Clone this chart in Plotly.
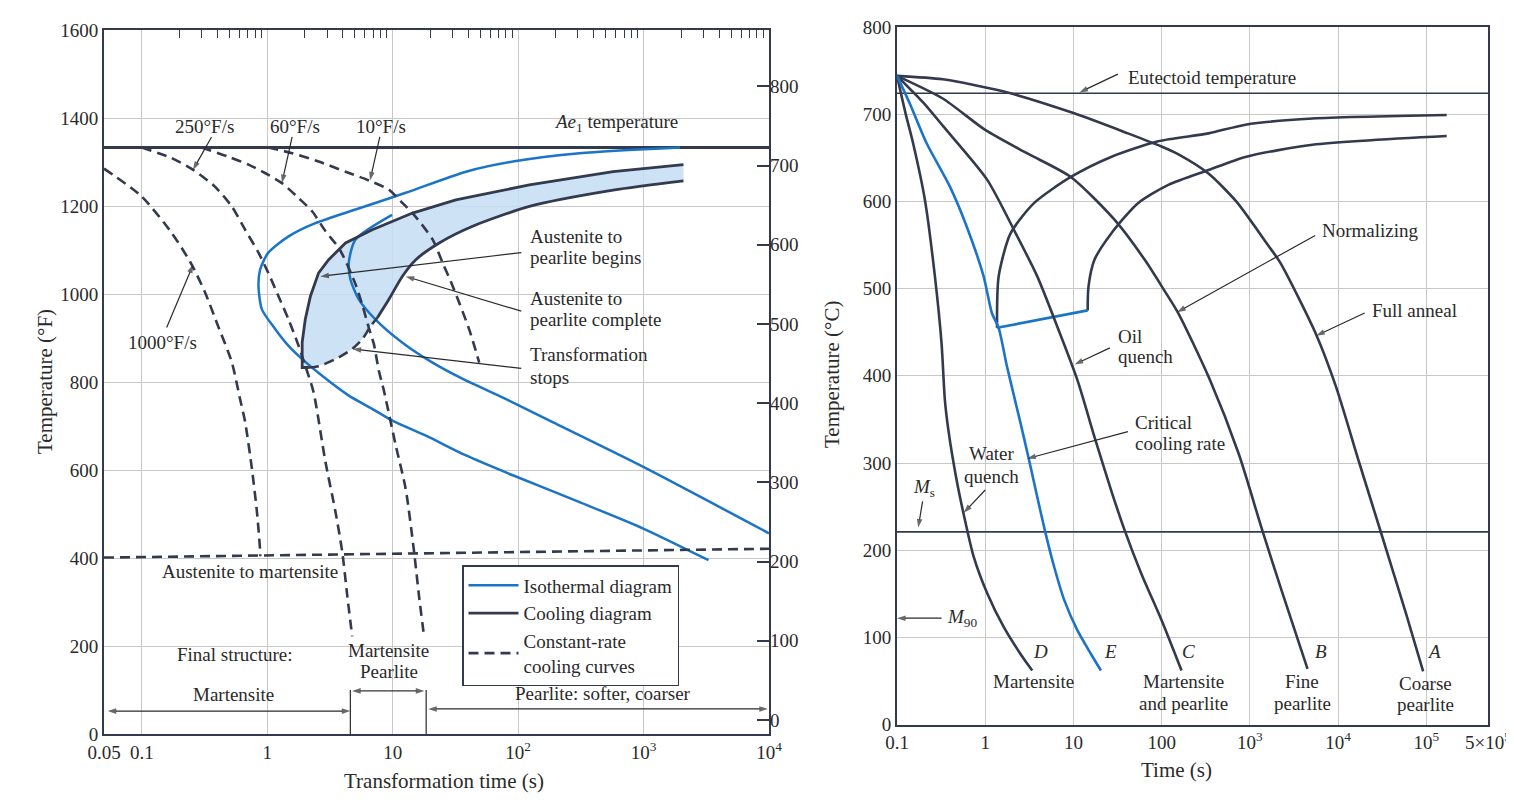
import numpy as np
import plotly.graph_objects as go

# ------------------------------------------------------------------ data
# Left panel (time s, temperature °F)
ae1_t = [0.05, 10000]
ae1_F = [1333, 1333]
aus_mart_t = [0.05, 10000]
aus_mart_F = [401, 421]

rate1000_t = [0.05, 0.0995, 0.173, 0.250, 0.319, 0.406, 0.522, 0.608, 0.667, 0.755, 0.828, 0.879, 0.88]
rate1000_F = [1285, 1222, 1139, 1067, 1004, 927, 845, 761, 709, 603, 505, 415, 404]
rate250_t = [0.10, 0.173, 0.257, 0.383, 0.522, 0.667, 0.852, 1.02, 1.23, 1.48, 1.78, 2.01, 2.34, 2.91, 3.50, 3.96, 4.34, 4.76]
rate250_F = [1333, 1309, 1282, 1244, 1199, 1146, 1094, 1048, 995, 942, 882, 837, 777, 619, 505, 415, 316, 222]
rate60_t = [0.30, 0.49, 0.71, 0.96, 1.31, 1.78, 2.28, 2.91, 3.72, 4.34, 5.06, 5.72, 6.46, 7.08, 7.77, 8.52, 10.6, 12.7, 14.8, 16.2, 17.8]
rate60_F = [1333, 1312, 1294, 1275, 1252, 1218, 1188, 1143, 1105, 1067, 1022, 976, 923, 886, 825, 780, 655, 557, 415, 315, 222]
rate10_t = [1.02, 1.58, 2.57, 4.21, 6.46, 9.34, 11.95, 14.4, 20.8, 25.0, 30.0, 40.8, 49.0]
rate10_F = [1333, 1320, 1301, 1278, 1258, 1237, 1207, 1184, 1124, 1071, 1019, 919, 844]

iso_start_t = [1951, 309, 90.7, 38.4, 12.7, 5.06, 2.42, 1.48, 1.02, 0.879, 0.852, 0.907, 1.16, 1.48, 1.90, 2.74,
               4.47, 6.88, 9.95, 18.4, 38.4, 90.7, 309, 995, 3296]
iso_start_F = [1333, 1320, 1301, 1278, 1230, 1192, 1161, 1131, 1094, 1056, 1018, 965, 920, 882, 852, 814,
               769, 739, 712, 678, 633, 588, 527, 467, 395]
iso_end_t = [9.9, 5.06, 4.47, 4.61, 5.37, 7.31, 11.9, 20.8, 36.2, 80.3, 167, 995, 10000]
iso_end_F = [1180, 1124, 1071, 1033, 988, 942, 890, 844, 807, 761, 716, 607, 456]

cool_start_t = [2.15, 1.90, 1.90, 2.01, 2.21, 2.57, 3.09, 4.21, 6.88, 14.4, 31.9, 123, 572, 2080]
cool_start_F = [833, 833, 890, 942, 995, 1048, 1078, 1116, 1146, 1184, 1214, 1248, 1278, 1294]
cool_end_t = [7.55, 9.34, 12.0, 15.3, 23.5, 43.4, 123, 572, 2080]
cool_end_F = [946, 988, 1041, 1078, 1116, 1154, 1199, 1236, 1257]
stop_t = [2.15, 2.57, 3.50, 4.76, 5.72, 6.67, 7.55]
stop_F = [833, 836, 852, 875, 897, 927, 946]

bracket_t = [4.6, 18.5]
bracket_F = [0, 100]

left_xticks = [0.05, 0.1, 1, 10, 100, 1000, 10000]
left_xtext = ['0.05', '0.1', '1', '10', '10<sup>2</sup>', '10<sup>3</sup>', '10<sup>4</sup>']
left_minor = [m * 10.0 ** d for d in range(-1, 4) for m in range(2, 10)]
left_yF = list(range(0, 1601, 200))
left_yC = list(range(0, 801, 100))

# Right panel (time s, temperature °C)
eutectoid_t = [0.1, 5e5]
eutectoid_C = [724, 724]
ms_t = [0.1, 5e5]
ms_C = [221, 221]

curveA_t = [0.1, 0.33, 1.62, 10.2, 41.5, 99.5, 155, 339, 700, 1600, 2200, 5600, 9500, 17400, 32000, 59000, 92000]
curveA_C = [744, 740, 726, 701, 678, 663, 654, 632, 600, 550, 530, 448, 387, 300, 214, 127, 61]
curveB_t = [0.1, 0.33, 1.0, 3.0, 9.34, 29.2, 64.3, 104, 154, 350, 750, 1380, 2335, 4500]
curveB_C = [744, 718, 682, 655, 628, 579, 533, 500, 472, 396, 310, 223, 151, 64]
curveC_t = [0.1, 0.2, 0.335, 1.05, 2.20, 3.89, 6.58, 11.1, 17.3, 26.7, 38.0, 58.8, 99.5, 168]
curveC_C = [744, 713, 686, 625, 564, 514, 456, 395, 330, 269, 223, 173, 120, 62]
curveD_t = [0.1, 0.125, 0.152, 0.207, 0.269, 0.320, 0.349, 0.382, 0.475, 0.591, 0.738, 1.05, 1.62, 2.51, 3.41]
curveD_C = [744, 701, 667, 602, 514, 437, 372, 338, 280, 234, 193, 151, 112, 81, 62]
curveE_t = [0.1, 0.14, 0.216, 0.398, 0.618, 0.959, 1.19, 1.42, 1.77, 2.51, 3.13, 3.89, 4.84, 6.04, 7.85, 11.1, 15.8, 20.5]
curveE_C = [744, 712, 667, 617, 571, 514, 472, 455, 410, 346, 304, 261, 219, 181, 143, 108, 81, 62]

norm_start_t = [1.36, 1.42, 1.93, 3.57, 9.34, 26.7, 91.2, 340, 890, 5130, 170000]
norm_start_C = [455, 514, 563, 598, 628, 651, 669, 678, 688, 695, 699]
norm_end_t = [14.5, 14.8, 17.3, 26.7, 53.9, 119, 340, 890, 5130, 170000]
norm_end_C = [475, 502, 533, 563, 598, 619, 636, 651, 665, 675]
conn_t = [1.36, 14.5]
conn_C = [455, 475]

right_xticks = [0.1, 1, 10, 100, 1e3, 1e4, 1e5, 5e5]
right_xtext = ['0.1', '1', '10', '100', '10<sup>3</sup>', '10<sup>4</sup>', '10<sup>5</sup>', '5×10<sup>5</sup>']
right_yC = list(range(0, 801, 100))

# ------------------------------------------------------------------ style
W, H = 1514, 806
OFF = 8          # page body margin offset of the figure
DARK = '#343a4e'
BLUE = '#1b74c8'
GRID = '#c8c8c8'
FILL = 'rgba(196,221,243,0.85)'
FONT = 'Liberation Serif'
TXT = '#2a2a2a'
DASH = '10px,6px'
AS = 19      # annotation font size
TS = 19      # tick font size


def px(x):
    return (x - OFF) / W


def py(y):
    return 1 - (y - OFF) / H


fig = go.Figure()


def line(t, v, color, width, dash=None, xa='x', ya='y', name=None, legend=False, rank=None, smooth=True):
    fig.add_trace(go.Scatter(
        x=t, y=v, mode='lines', xaxis=xa, yaxis=ya, name=name, showlegend=legend,
        legendrank=rank if rank is not None else 1000,
        line=dict(color=color, width=width, dash=dash,
                  shape='spline' if smooth else 'linear', smoothing=0.7), hoverinfo='skip'))


# ---- left panel
fig.add_trace(go.Scatter(
    x=cool_start_t + cool_end_t[::-1] + stop_t[::-1],
    y=cool_start_F + cool_end_F[::-1] + stop_F[::-1],
    mode='lines', fill='toself', fillcolor=FILL, line=dict(width=0),
    xaxis='x', yaxis='y', showlegend=False, hoverinfo='skip'))
line(ae1_t, ae1_F, DARK, 3, smooth=False)
line(iso_start_t, iso_start_F, BLUE, 2.5, name='Isothermal diagram', legend=True, rank=1)
line(iso_end_t, iso_end_F, BLUE, 2.5)
line(cool_start_t, cool_start_F, DARK, 2.8, name='Cooling diagram', legend=True, rank=2, smooth=False)
line(cool_end_t, cool_end_F, DARK, 2.8)
line(stop_t, stop_F, DARK, 2.6, dash=DASH)
line(aus_mart_t, aus_mart_F, DARK, 2.6, dash=DASH, smooth=False)
line(rate1000_t, rate1000_F, DARK, 2.6, dash=DASH, name='Constant-rate<br>cooling curves', legend=True, rank=3)
line(rate250_t, rate250_F, DARK, 2.6, dash=DASH)
line(rate60_t, rate60_F, DARK, 2.6, dash=DASH)
line(rate10_t, rate10_F, DARK, 2.6, dash=DASH)
for bt in bracket_t:
    line([bt, bt], bracket_F, TXT, 1.2, smooth=False)
# dummy traces so the overlay axes are drawn
fig.add_trace(go.Scatter(x=[None], y=[None], xaxis='x', yaxis='y2', showlegend=False, hoverinfo='skip'))
fig.add_trace(go.Scatter(x=[None], y=[None], xaxis='x4', yaxis='y', showlegend=False, hoverinfo='skip'))

# ---- right panel
line(eutectoid_t, eutectoid_C, DARK, 1.6, xa='x2', ya='y3', smooth=False)
line(ms_t, ms_C, DARK, 1.8, xa='x2', ya='y3', smooth=False)
line(norm_start_t, norm_start_C, DARK, 2.6, xa='x2', ya='y3')
line(norm_end_t, norm_end_C, DARK, 2.6, xa='x2', ya='y3')
line(conn_t, conn_C, BLUE, 2.6, xa='x2', ya='y3', smooth=False)
for ct, cv in [(curveA_t, curveA_C), (curveB_t, curveB_C), (curveC_t, curveC_C), (curveD_t, curveD_C)]:
    line(ct, cv, DARK, 2.6, xa='x2', ya='y3')
line(curveE_t, curveE_C, BLUE, 2.6, xa='x2', ya='y3')


# ------------------------------------------------------------------ labels and pointer arrows
def text(t, v, s, xr='x', yr='y', size=AS, xanchor='center', italic=False):
    fig.add_annotation(x=np.log10(t), y=v, xref=xr, yref=yr, text=(f'<i>{s}</i>' if italic else s),
                       showarrow=False, xanchor=xanchor, yanchor='middle',
                       font=dict(family=FONT, size=size, color=TXT))


def arrow(t0, v0, t1, v1, xr='x', yr='y', both=False):
    xa = xr
    ya = yr
    segs = [((t0, v0), (t1, v1))]
    if both:
        tm, vm = np.sqrt(t0 * t1), (v0 + v1) / 2
        segs = [((tm, vm), (t1, v1)), ((tm, vm), (t0, v0))]
    for (a, b) in segs:
        fig.add_trace(go.Scatter(
            x=[a[0], b[0]], y=[a[1], b[1]], mode='lines+markers', xaxis=xa, yaxis=ya,
            line=dict(color=TXT, width=1.2),
            marker=dict(symbol=['circle', 'arrow'], size=[0, 9], angleref='previous',
                        color=TXT, line=dict(width=0)),
            showlegend=False, hoverinfo='skip'))


# left panel labels
text(0.319, 1380, '250°F/s')
text(1.67, 1380, '60°F/s')
text(8.0, 1380, '10°F/s')
arrow(0.36, 1357, 0.256, 1282)
arrow(1.58, 1357, 1.31, 1252)
arrow(7.9, 1357, 6.6, 1258)
text(0.147, 890, '1000°F/s')
arrow(0.158, 924, 0.257, 1067)
text(608, 1389, '<i>Ae</i><sub>1</sub> temperature')
text(120, 1130, 'Austenite to', xanchor='left')
text(120, 1083, 'pearlite begins', xanchor='left')
arrow(106, 1094, 2.65, 1040)
text(120, 990, 'Austenite to', xanchor='left')
text(120, 942, 'pearlite complete', xanchor='left')
arrow(106, 961, 12.7, 1040)
text(120, 863, 'Transformation', xanchor='left')
text(120, 811, 'stops', xanchor='left')
arrow(106, 831, 4.79, 875)
text(0.73, 370, 'Austenite to martensite')
text(0.555, 181, 'Final structure:')
text(0.535, 89, 'Martensite')
text(9.3, 190, 'Martensite')
text(9.3, 141, 'Pearlite')
text(478, 91, 'Pearlite: softer, coarser')
arrow(0.0535, 52, 4.6, 52, both=True)
arrow(4.75, 98, 17.9, 98, both=True)
arrow(19.2, 57, 9800, 57, both=True)

# right panel labels
R = dict(xr='x2', yr='y3')
text(39.3, 742, 'Eutectoid temperature', xanchor='left', **R)
arrow(31.9, 746, 11.7, 725, **R)
text(6300, 567, 'Normalizing', xanchor='left', **R)
arrow(5500, 561, 150, 473, **R)
text(22700, 475, 'Full anneal', xanchor='left', **R)
arrow(20000, 472, 5650, 446, **R)
text(30.2, 445, 'Oil', xanchor='left', **R)
text(30.2, 422, 'quench', xanchor='left', **R)
arrow(25.9, 432, 10.3, 413, **R)
text(47.4, 346, 'Critical', xanchor='left', **R)
text(47.4, 322, 'cooling rate', xanchor='left', **R)
arrow(41.4, 336, 2.99, 305, **R)
text(1.19, 311, 'Water', **R)
text(1.19, 285, 'quench', **R)
arrow(1.0, 269, 0.571, 243, **R)
text(0.2, 271, '<i>M</i><sub>s</sub>', **R)
arrow(0.195, 256, 0.174, 226, **R)
text(0.55, 122, '<i>M</i><sub>90</sub>', **R)
arrow(0.32, 122, 0.1, 122, **R)
for t, s in [(4.22, 'D'), (26.6, 'E'), (202, 'C'), (6460, 'B'), (122000, 'A')]:
    text(t, 84, s, italic=True, **R)
text(3.5, 49, 'Martensite', **R)
text(176, 49, 'Martensite', **R)
text(176, 24, 'and pearlite', **R)
text(3920, 49, 'Fine', **R)
text(3920, 24, 'pearlite', **R)
text(96600, 47, 'Coarse', **R)
text(96600, 23, 'pearlite', **R)

# axis titles
for x, y, s, ang in [(45, 382, 'Temperature (°F)', -90), (444, 781, 'Transformation time (s)', 0),
                     (832, 375, 'Temperature (°C)', -90), (1176, 770, 'Time (s)', 0)]:
    fig.add_annotation(x=px(x), y=py(y), xref='paper', yref='paper', text=s, showarrow=False,
                       xanchor='center', yanchor='middle',
                       textangle=ang, font=dict(family=FONT, size=21, color=TXT))

# ------------------------------------------------------------------ layout
tickfont = dict(family=FONT, size=TS, color=TXT)
ax_common = dict(showline=True, linecolor=DARK, linewidth=2, gridcolor=GRID, gridwidth=1,
                 zeroline=False, tickfont=tickfont, ticks='')
L_dom = [px(104), px(769)]
L_ydom = [py(734), py(30)]
R_dom = [px(897), px(1488)]
R_ydom = [py(724.6), py(27)]
Crng = [(0 - 32) * 5 / 9, (1600 - 32) * 5 / 9]

fig.update_layout(
    width=W, height=H, margin=dict(l=0, r=0, t=0, b=0, autoexpand=False),
    paper_bgcolor='white', plot_bgcolor='white',
    font=dict(family=FONT, color=TXT),
    xaxis=dict(type='log', domain=L_dom, range=[np.log10(0.05), 4], anchor='y', mirror=True,
               tickvals=left_xticks, ticktext=left_xtext, **ax_common),
    xaxis4=dict(type='log', overlaying='x', anchor='y', side='top', range=[np.log10(0.05), 4],
                tickvals=left_minor, ticks='inside', ticklen=8, tickwidth=1.2, tickcolor=DARK,
                showticklabels=False, showgrid=False, showline=False, zeroline=False),
    yaxis=dict(domain=L_ydom, range=[0, 1600], anchor='x', mirror=True, tickvals=left_yF, **ax_common),
    yaxis2=dict(overlaying='y', side='right', anchor='x', range=Crng, tickvals=left_yC,
                ticks='inside', ticklen=12, tickwidth=1.5, tickcolor=DARK, showgrid=False,
                showline=False, zeroline=False, tickfont=tickfont),
    xaxis2=dict(type='log', domain=R_dom, range=[-1, np.log10(5e5)], anchor='y3', mirror=True,
                tickvals=right_xticks, ticktext=right_xtext, **ax_common),
    yaxis3=dict(domain=R_ydom, range=[0, 800], anchor='x2', mirror=True, tickvals=right_yC, **ax_common),
    legend=dict(x=px(462), y=py(565), xanchor='left', yanchor='top', bgcolor='white',
                bordercolor=DARK, borderwidth=1.5, font=dict(family=FONT, size=19, color=TXT),
                itemwidth=50, traceorder='normal'),
)

fig.write_html("out.html")
